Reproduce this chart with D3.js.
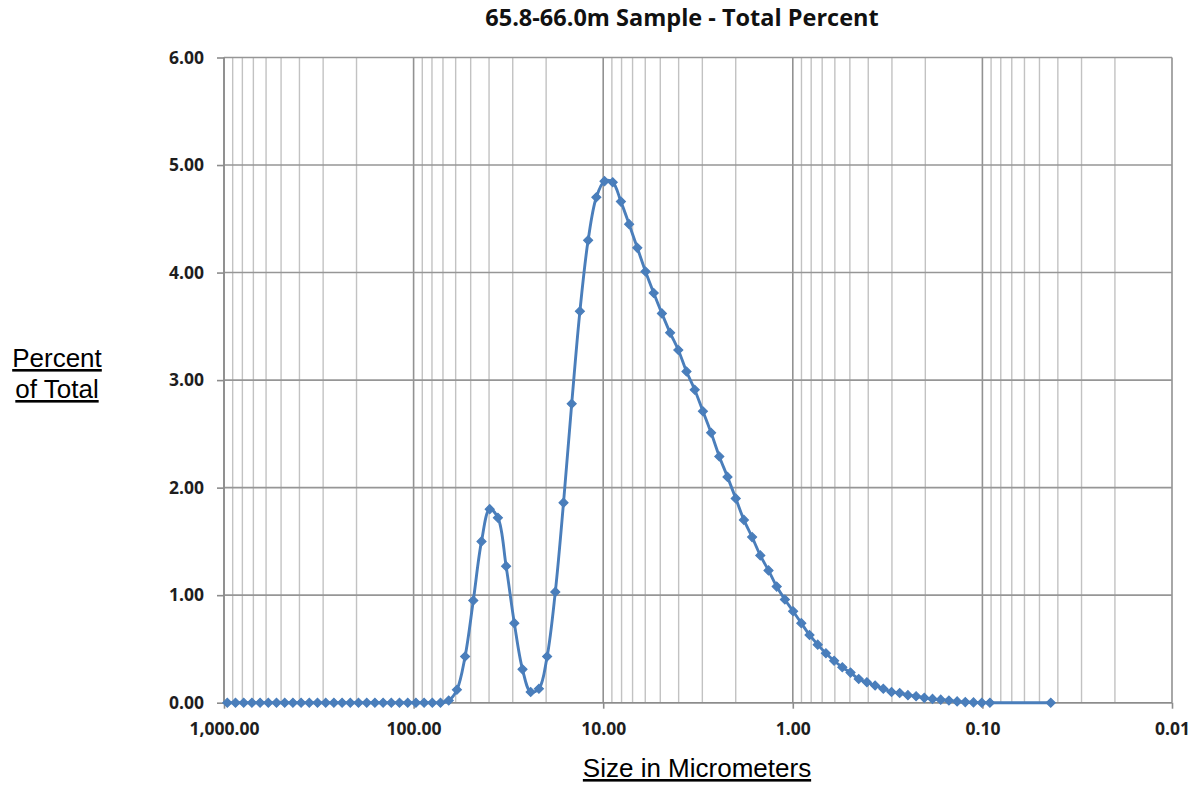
<!DOCTYPE html>
<html>
<head>
<meta charset="utf-8">
<script src="https://cdn.jsdelivr.net/npm/d3@7"></script>
<style>
  html, body { margin: 0; padding: 0; background: #fff; }
  svg { display: block; }
</style>
</head>
<body>
<svg id="chart" width="1204" height="786"></svg>
<script>
// Particle size channels (micrometers), coarse to fine
const sizes = [
  960.7, 869.7, 787.2, 712.6, 645.1, 583.9, 528.6, 478.5, 433.1, 392.1,
  354.9, 321.3, 290.8, 263.3, 238.3, 215.7, 195.3, 176.7, 160.0, 144.8,
  131.1, 118.7, 107.4, 97.24, 88.02, 79.68, 72.13, 65.29, 59.10, 53.50,
  48.43, 43.84, 39.68, 35.92, 32.52, 29.43, 26.64, 24.12, 21.83, 19.76,
  17.89, 16.19, 14.66, 13.27, 12.01, 10.87, 9.842, 8.909, 8.065, 7.300,
  6.608, 5.982, 5.415, 4.902, 4.437, 4.016, 3.636, 3.291, 2.979, 2.697,
  2.441, 2.210, 2.000, 1.811, 1.639, 1.484, 1.343, 1.216, 1.101, 0.9962,
  0.9018, 0.8163, 0.7389, 0.6689, 0.6055, 0.5481, 0.4961, 0.4491, 0.4066, 0.3680,
  0.3331, 0.3015, 0.2730, 0.2471, 0.2237, 0.2025, 0.1833, 0.1659, 0.1502, 0.1359,
  0.1231, 0.1114, 0.1008, 0.09127, 0.0436
];

// Percent of total volume in each channel
const percent = [
  0, 0, 0, 0, 0, 0, 0, 0, 0, 0,
  0, 0, 0, 0, 0, 0, 0, 0, 0, 0,
  0, 0, 0, 0, 0, 0, 0, 0.02, 0.12, 0.43,
  0.95, 1.50, 1.80, 1.72, 1.27, 0.74, 0.31, 0.10, 0.13, 0.43,
  1.03, 1.86, 2.78, 3.64, 4.30, 4.70, 4.85, 4.84, 4.66, 4.45,
  4.23, 4.01, 3.81, 3.62, 3.44, 3.28, 3.08, 2.91, 2.71, 2.51,
  2.29, 2.10, 1.90, 1.70, 1.54, 1.37, 1.23, 1.08, 0.96, 0.85,
  0.74, 0.63, 0.54, 0.46, 0.39, 0.33, 0.28, 0.22, 0.19, 0.16,
  0.13, 0.10, 0.09, 0.07, 0.06, 0.045, 0.035, 0.028, 0.02, 0.012,
  0.006, 0.003, 0, 0, 0
];

const xTickValues = [1000, 100, 10, 1, 0.1, 0.01];
const yTickValues = [0, 1, 2, 3, 4, 5, 6];

const chartTitle = "65.8-66.0m Sample - Total Percent";
const xTitle = "Size in Micrometers";
const yTitleLines = ["Percent", "of Total"];

const data = sizes.map((s, i) => ({ size: s, pct: percent[i] }));

const svg = d3.select("#chart");

const x = d3.scaleLog().domain([1000, 0.01]).range([224, 1172]);
const y = d3.scaleLinear().domain([0, 6]).range([702.7, 57.5]);

const tickFont = "'Open Sans', 'DejaVu Sans', sans-serif";
const labelFont = "'Liberation Sans', Arial, sans-serif";
const seriesColor = "#4a7ebb";

// Vertical grid: minor lines at 2..9 of each decade, major lines at each power of ten
const gridVals = x.ticks();
const isMajor = v => Math.abs(Math.log10(v) - Math.round(Math.log10(v))) < 1e-9;

const grid = svg.append("g").attr("class", "grid");
grid.selectAll("line.minor")
  .data(gridVals.filter(v => !isMajor(v)))
  .join("line")
  .attr("class", "minor")
  .attr("x1", d => x(d)).attr("x2", d => x(d))
  .attr("y1", y(0)).attr("y2", y(6))
  .attr("stroke", "#c2c2c2")
  .attr("stroke-width", 1.4);

grid.selectAll("line.major")
  .data(gridVals.filter(isMajor))
  .join("line")
  .attr("class", "major")
  .attr("x1", d => x(d)).attr("x2", d => x(d))
  .attr("y1", y(0)).attr("y2", y(6))
  .attr("stroke", "#929292")
  .attr("stroke-width", 1.6);

grid.selectAll("line.h")
  .data(yTickValues)
  .join("line")
  .attr("class", "h")
  .attr("x1", x(1000)).attr("x2", x(0.01))
  .attr("y1", d => y(d)).attr("y2", d => y(d))
  .attr("stroke", "#969696")
  .attr("stroke-width", 1.6);

// Axes
const xAxis = d3.axisBottom(x)
  .tickValues(xTickValues)
  .tickFormat(d3.format(",.2f"))
  .tickSize(6)
  .tickPadding(14);

const yAxis = d3.axisLeft(y)
  .tickValues(yTickValues)
  .tickFormat(d3.format(".2f"))
  .tickSize(7)
  .tickPadding(13);

const gx = svg.append("g")
  .attr("transform", `translate(0,${y(0)})`)
  .call(xAxis);

const gy = svg.append("g")
  .attr("transform", `translate(${x(1000)},0)`)
  .call(yAxis);

[gx, gy].forEach(g => {
  g.select(".domain").attr("stroke", "#8c8c8c").attr("stroke-width", 1.6);
  g.selectAll(".tick line").attr("stroke", "#8c8c8c").attr("stroke-width", 1.6);
  g.selectAll(".tick text")
    .attr("fill", "#1e1e1e")
    .style("font-family", tickFont)
    .style("font-size", "17.5px")
    .style("font-weight", "700");
});
gy.select(".domain").attr("d", `M0,${y(0)}V${y(6)}`);
gx.select(".domain").attr("d", `M${x(1000)},0H${x(0.01)}`);

// Series line (smoothed) and diamond markers
const line = d3.line()
  .x(d => x(d.size))
  .y(d => y(d.pct))
  .curve(d3.curveCatmullRom.alpha(0.5));

svg.append("path")
  .datum(data)
  .attr("fill", "none")
  .attr("stroke", seriesColor)
  .attr("stroke-width", 2.9)
  .attr("stroke-linejoin", "round")
  .attr("d", line);

const diamond = d3.symbol().type(d3.symbolSquare).size(40);
svg.append("g")
  .selectAll("path")
  .data(data)
  .join("path")
  .attr("d", diamond)
  .attr("transform", d => `translate(${x(d.size)},${y(d.pct)}) rotate(45)`)
  .attr("fill", seriesColor)
  .attr("stroke", seriesColor)
  .attr("stroke-width", 1.2);

// Titles
svg.append("text")
  .attr("x", 682)
  .attr("y", 26)
  .attr("text-anchor", "middle")
  .style("font-family", tickFont)
  .style("font-size", "23.5px")
  .style("font-weight", "700")
  .attr("fill", "#111")
  .text(chartTitle);

svg.append("text")
  .attr("x", 697)
  .attr("y", 777)
  .attr("text-anchor", "middle")
  .style("font-family", labelFont)
  .style("font-size", "26px")
  .style("text-decoration", "underline")
  .attr("fill", "#000")
  .text(xTitle);

svg.append("g")
  .selectAll("text")
  .data(yTitleLines)
  .join("text")
  .attr("x", 57)
  .attr("y", (d, i) => 367 + i * 31)
  .attr("text-anchor", "middle")
  .style("font-family", labelFont)
  .style("font-size", "26px")
  .style("text-decoration", "underline")
  .attr("fill", "#000")
  .text(d => d);
</script>
</body>
</html>
